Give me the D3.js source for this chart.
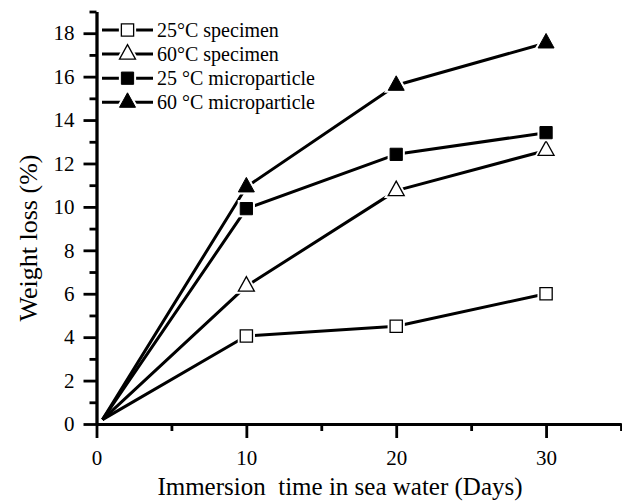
<!DOCTYPE html>
<html>
<head>
<meta charset="utf-8">
<script src="https://cdn.jsdelivr.net/npm/d3@7"></script>
<style>
  html, body { margin: 0; padding: 0; background: #fff; }
  svg { display: block; }
</style>
</head>
<body>
<svg id="chart" width="622" height="503"></svg>
<script>
// Immersion time (days) for each measurement
const days = [0.4, 10, 20, 30];

// Weight loss (%) per sample group
const specimen25 = [0.2, 4.05, 4.5, 6.0];
const specimen60 = [0.2, 6.35, 10.75, 12.6];
const micro25 = [0.2, 9.92, 12.42, 13.42];
const micro60 = [0.2, 10.92, 15.6, 17.55];

const seriesNames = ["25°C specimen", "60°C specimen", "25 °C microparticle", "60 °C microparticle"];
const seriesMarkers = ["square-open", "triangle-open", "square", "triangle"];

const xMajorTicks = [0, 10, 20, 30];
const xMinorTicks = [5, 15, 25, 35];
const yMajorTicks = [0, 2, 4, 6, 8, 10, 12, 14, 16, 18];
const yMinorTicks = [1, 3, 5, 7, 9, 11, 13, 15, 17, 19];

const FONT = '"Liberation Serif", "Times New Roman", Times, serif';

const series = [specimen25, specimen60, micro25, micro60].map((vals, i) => ({
  name: seriesNames[i],
  marker: seriesMarkers[i],
  points: days.map((d, j) => ({ day: d, value: vals[j] }))
}));

const svg = d3.select("#chart");
const x = d3.scaleLinear().domain([0, 35]).range([96.5, 621]);
const y = d3.scaleLinear().domain([0, 19]).range([424, 11.5]);

const AXIS_W = 2.8;

function styleAxis(g) {
  g.attr("font-family", FONT);
  g.select(".domain").attr("stroke", "#000").attr("stroke-width", AXIS_W);
  g.selectAll(".tick line").attr("stroke", "#000").attr("stroke-width", AXIS_W);
  g.selectAll(".tick text")
    .style("font-family", FONT)
    .style("font-size", "21px")
    .attr("fill", "#000");
}

// x axis: labelled major ticks plus shorter unlabelled minor ticks
svg.append("g").attr("transform", `translate(0,${y(0)})`)
  .call(d3.axisBottom(x).tickValues(xMinorTicks).tickSize(7).tickSizeOuter(0).tickFormat(""))
  .call(styleAxis);
svg.append("g").attr("transform", `translate(0,${y(0)})`)
  .call(d3.axisBottom(x).tickValues(xMajorTicks).tickSize(14).tickSizeOuter(0).tickPadding(12).tickFormat(d3.format("d")))
  .call(styleAxis);

// y axis
svg.append("g").attr("transform", `translate(${x(0)},0)`)
  .call(d3.axisLeft(y).tickValues(yMinorTicks).tickSize(7).tickSizeOuter(0).tickFormat(""))
  .call(styleAxis);
svg.append("g").attr("transform", `translate(${x(0)},0)`)
  .call(d3.axisLeft(y).tickValues(yMajorTicks).tickSize(13).tickSizeOuter(0).tickPadding(9).tickFormat(d3.format("d")))
  .call(styleAxis);

// axis titles
svg.append("text")
  .attr("x", 340).attr("y", 495)
  .attr("text-anchor", "middle")
  .style("font-family", FONT)
  .style("font-size", "25px")
  .style("white-space", "pre")
  .attr("xml:space", "preserve")
  .text("Immersion  time in sea water (Days)");

svg.append("text")
  .attr("transform", "translate(37,238) rotate(-90)")
  .attr("text-anchor", "middle")
  .style("font-family", FONT)
  .style("font-size", "26px")
  .text("Weight loss (%)");

// marker shapes
const squarePath = d3.symbol().type(d3.symbolSquare).size(150)();
const trianglePath = "M0,-9.5L8,5L-8,5Z";

function drawMarker(g, kind) {
  const isTri = kind.startsWith("triangle");
  const filled = !kind.endsWith("open");
  const path = isTri ? trianglePath : squarePath;
  // white halo keeps the line clear of the marker edge
  g.append("path").attr("d", path).attr("fill", "#fff").attr("stroke", "#fff").attr("stroke-width", 5);
  g.append("path").attr("d", path)
    .attr("fill", filled ? "#000" : "#fff")
    .attr("stroke", "#000")
    .attr("stroke-width", filled ? 1 : 1.3);
}

const line = d3.line().x(d => x(d.day)).y(d => y(d.value));

const plot = svg.append("g");
series.forEach(s => {
  plot.append("path")
    .datum(s.points)
    .attr("d", line)
    .attr("fill", "none")
    .attr("stroke", "#000")
    .attr("stroke-width", 3)
    .attr("stroke-linejoin", "round");
});
series.forEach(s => {
  s.points.filter(p => p.day >= 5).forEach(p => {
    const g = plot.append("g").attr("transform", `translate(${x(p.day)},${y(p.value)})`);
    drawMarker(g, s.marker);
  });
});

// legend
const legend = svg.append("g");
series.forEach((s, i) => {
  const ly = 30 + i * 24.1;
  const row = legend.append("g").attr("transform", `translate(0,${ly})`);
  row.append("line").attr("x1", 102).attr("x2", 153).attr("y1", 0).attr("y2", 0)
    .attr("stroke", "#000").attr("stroke-width", 3);
  const mg = row.append("g").attr("transform", "translate(127.5,0)");
  drawMarker(mg, s.marker);
  row.append("text").attr("x", 157).attr("y", 0).attr("dy", "0.33em")
    .style("font-family", FONT)
    .style("font-size", "20px").text(s.name);
});
</script>
</body>
</html>
